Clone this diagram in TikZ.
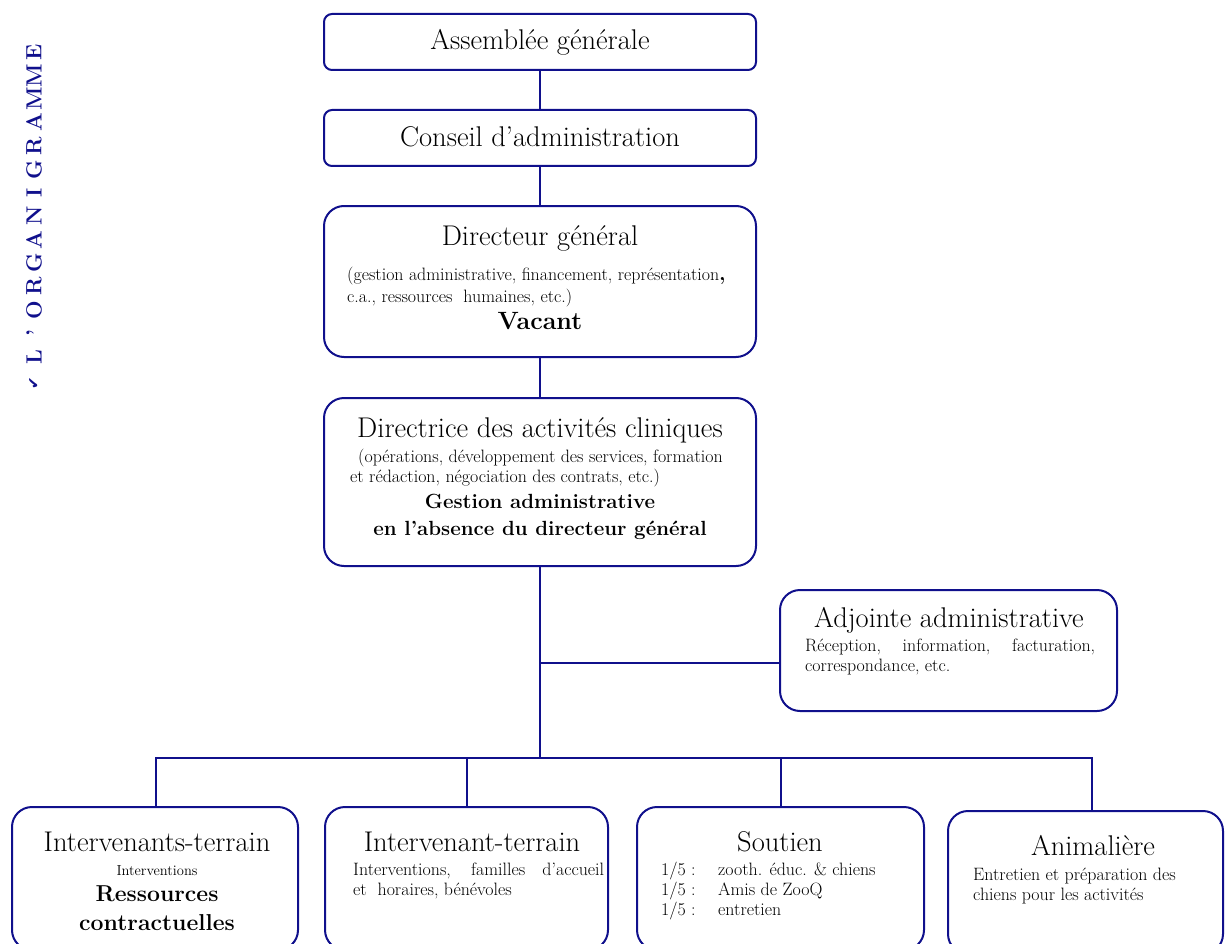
\documentclass[tikz,border=0pt]{standalone}
\usepackage{fontspec}
\newfontfamily\symb{DejaVu Sans}
\definecolor{navy}{RGB}{16,16,140}
\tikzset{
  box/.style={draw=navy, line width=2pt, rounded corners=#1, inner sep=0pt, outer sep=0pt},
  box/.default=20pt,
  conn/.style={draw=navy, line width=2pt},
  ttl/.style={anchor=mid, inner sep=0pt, font=\fontsize{28.5}{33}\selectfont},
  desc/.style={anchor=mid west, inner sep=0pt, font=\fontsize{17.9}{21}\selectfont},
  bld/.style={anchor=mid, inner sep=0pt, font=\bfseries\fontsize{#1}{#1}\selectfont},
  vlet/.style={rotate=90, inner sep=0pt, text=navy, font=\bfseries\fontsize{22}{22}\selectfont},
}
\begin{document}
\begin{tikzpicture}[x=1pt,y=-1pt]
\useasboundingbox (0,0) rectangle (1225,944);
% boxes
\node[box=8pt, minimum width=432pt, minimum height=56pt] (ag) at (540,42) {};
\node[box=8pt, minimum width=432pt, minimum height=56pt] (ca) at (540,138) {};
\node[box, minimum width=432pt, minimum height=151pt] (dg) at (540,281.5) {};
\node[box, minimum width=432pt, minimum height=168pt] (dac) at (540,482) {};
\node[box, minimum width=337pt, minimum height=121pt] (adj) at (948.5,650.5) {};
\node[box, minimum width=286pt, minimum height=143pt] (b1) at (155,878.5) {};
\node[box, minimum width=283pt, minimum height=143pt] (b2) at (466.5,878.5) {};
\node[box, minimum width=287pt, minimum height=143pt] (b3) at (780.5,878.5) {};
\node[box, minimum width=275pt, minimum height=143pt] (b4) at (1085.5,882.5) {};
% connectors
\coordinate (jadj) at (540,663);
\coordinate (bus) at (540,758);
\coordinate (busL) at (156,758);
\coordinate (busR) at (1092,758);
\draw[conn] (ag.south) -- (ca.north);
\draw[conn] (ca.south) -- (dg.north);
\draw[conn] (dg.south) -- (dac.north);
\draw[conn] (dac.south) -- (bus);
\draw[conn] (jadj) -- (jadj -| adj.west);
\draw[conn] (busL |- b1.north) -- (busL) -- (busR) -- (busR |- b4.north);
\draw[conn] (bus -| b2.north) -- (b2.north);
\draw[conn] (bus -| b3.north) -- (b3.north);
% texts
\node[ttl] (tag) at (540,47) {Assemblée générale};
\node[ttl] (tca) at (540,144) {Conseil d’administration};
\node[ttl] (tdg) at (540,243) {Directeur général};
\node[desc] (dg1) at (347,278) {(gestion administrative, financement, représentation{\bfseries\fontsize{21}{21}\selectfont ,}};
\node[desc] (dg2) at (347,300) {c.a., ressources\ \ humaines, etc.)};
\node[bld=25] (vac) at (540,327) {Vacant};
\node[ttl] (tdac) at (540,435) {Directrice des activités cliniques};
\node[desc] (dac1) at (358,460) {(opérations, développement des services, formation};
\node[desc] (dac2) at (350,480) {et rédaction, négociation des contrats, etc.)};
\node[bld=20.5] (dac3) at (540,506) {Gestion administrative};
\node[bld=20.5] (dac4) at (540,533) {en l’absence du directeur général};
\node[ttl] (tadj) at (949,625) {Adjointe administrative};
\node[desc] (adj1) at (805,649) {\makebox[290pt][s]{Réception, information, facturation,}};
\node[desc] (adj2) at (805,669) {correspondance, etc.};
\node[ttl] (tb1) at (157,849) {Intervenants-terrain};
\node[anchor=mid, inner sep=0pt, font=\fontsize{14.5}{17}\selectfont] (b1a) at (157,873) {Interventions};
\node[bld=23] (b1b) at (157,899) {Ressources};
\node[bld=23] (b1c) at (157,928) {contractuelles};
\node[ttl] (tb2) at (472,849) {Intervenant-terrain};
\node[desc] (b2a) at (353,873) {\makebox[251pt][s]{Interventions, familles d’accueil}};
\node[desc] (b2b) at (353,893) {et\ \ horaires, bénévoles};
\node[ttl] (tb3) at (780,849) {Soutien};
\node[desc] (b3a) at (661,873) {1/5 :};
\node[desc] (b3b) at (718,873) {zooth. éduc. \& chiens};
\node[desc] (b3c) at (661,893) {1/5 :};
\node[desc] (b3d) at (718,893) {Amis de ZooQ};
\node[desc] (b3e) at (661,913) {1/5 :};
\node[desc] (b3f) at (718,913) {entretien};
\node[ttl] (tb4) at (1093,853) {Animalière};
\node[desc] (b4a) at (973,878) {Entretien et préparation des};
\node[desc] (b4b) at (973,898) {chiens pour les activités};
% vertical title
\foreach \ch [count=\i from 0] in {L,’,O,R,G,A,N,I,G,R,A,M,M,E}
  \node[vlet] (v\i) at (34,{357-23.46*\i}) {\ch};
\node[rotate=90, inner sep=0pt, text=navy, font=\symb\fontsize{15}{15}\selectfont] (chk) at (34,383) {✔};
\end{tikzpicture}
\end{document}
